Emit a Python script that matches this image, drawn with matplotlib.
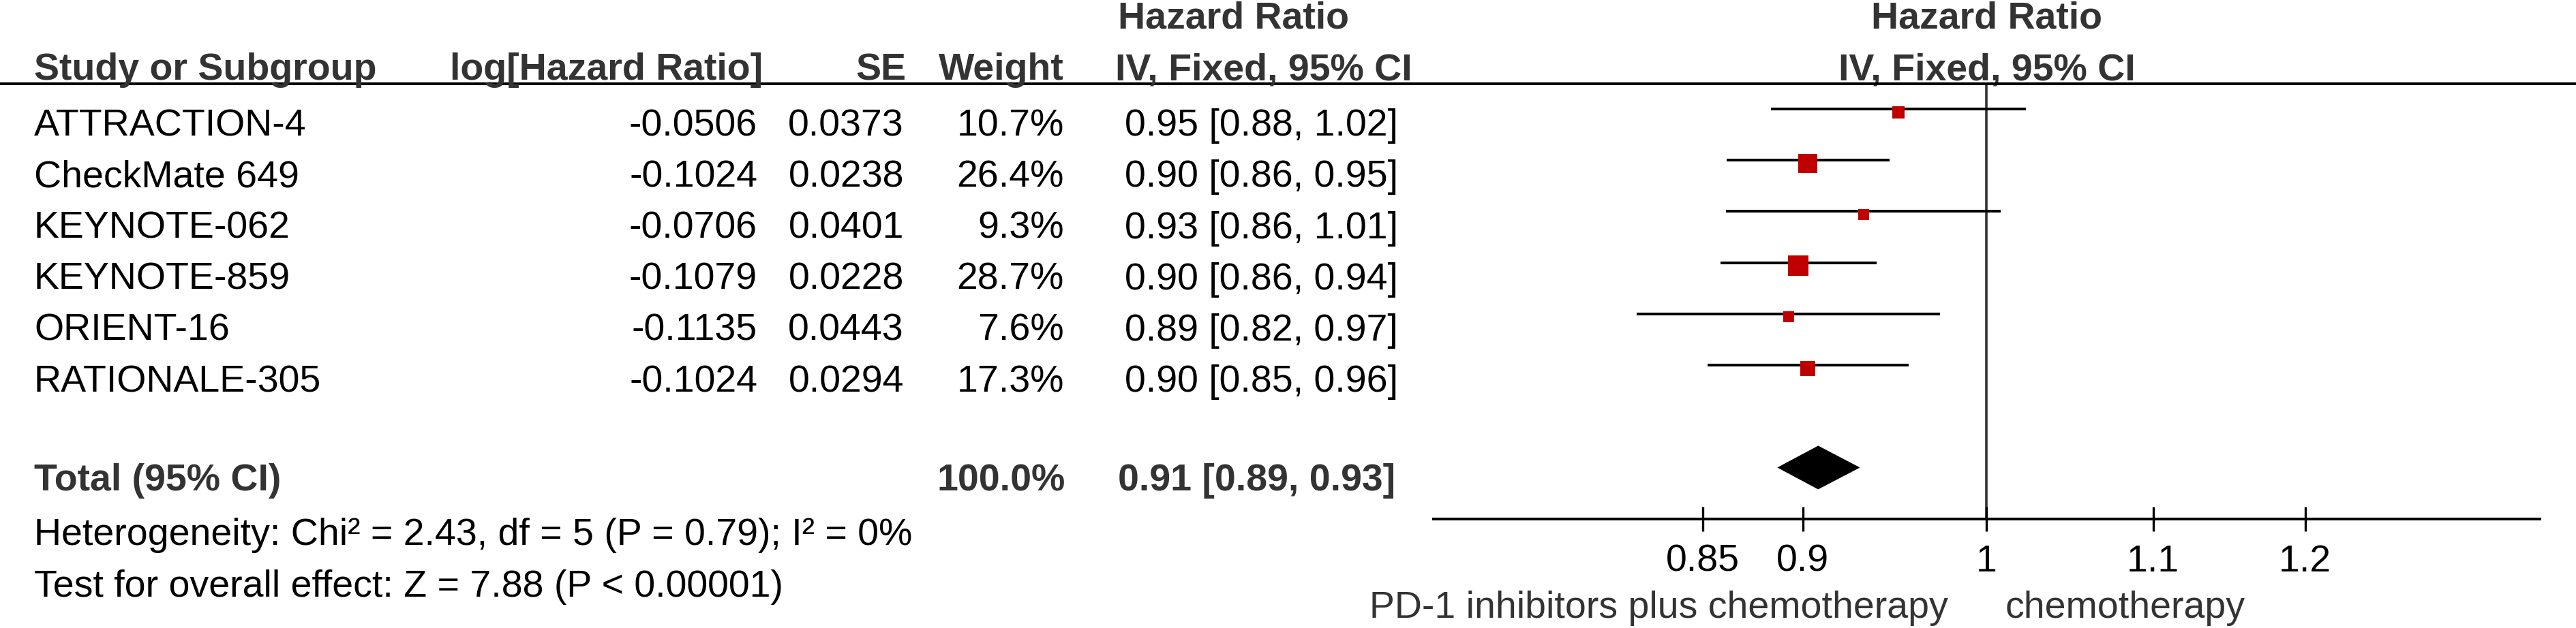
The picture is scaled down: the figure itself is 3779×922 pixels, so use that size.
import matplotlib
matplotlib.use("Agg")
import matplotlib.pyplot as plt
import matplotlib.transforms as mtransforms
from matplotlib.lines import Line2D
import numpy as np

plt.rcParams['font.family'] = ['Liberation Sans', 'DejaVu Sans']

# data
studies = ["ATTRACTION-4", "CheckMate 649", "KEYNOTE-062", "KEYNOTE-859", "ORIENT-16", "RATIONALE-305"]
log_hr = [-0.0506, -0.1024, -0.0706, -0.1079, -0.1135, -0.1024]
se = [0.0373, 0.0238, 0.0401, 0.0228, 0.0443, 0.0294]
weight = [10.7, 26.4, 9.3, 28.7, 7.6, 17.3]
hr_text = ["0.95 [0.88, 1.02]", "0.90 [0.86, 0.95]", "0.93 [0.86, 1.01]",
           "0.90 [0.86, 0.94]", "0.89 [0.82, 0.97]", "0.90 [0.85, 0.96]"]
total_hr = 0.908
total_lo = 0.887
total_hi = 0.930
total_text = "0.91 [0.89, 0.93]"
ticks = [0.85, 0.9, 1, 1.1, 1.2]
tick_labels = ["0.85", "0.9", "1", "1.1", "1.2"]
heterogeneity = "Heterogeneity: Chi² = 2.43, df = 5 (P = 0.79); I² = 0%"
overall = "Test for overall effect: Z = 7.88 (P < 0.00001)"
favours_left = "PD-1 inhibitors plus chemotherapy"
favours_right = "chemotherapy"

W, H = 3780, 922
FS = 40
HEAD = "#333333"
RED = "#C00000"

fig = plt.figure(figsize=(W / 100, H / 100), dpi=100)
ax = fig.add_axes([2103 / W, 1 - 762 / H, (3726 - 2103) / W, (762 - 123) / H])

# pixel transform (origin top-left) and row transform
px = mtransforms.Affine2D().scale(1 / W, -1 / H).translate(0, 1) + fig.transFigure
row_tr = mtransforms.blended_transform_factory(px, ax.transData)

lhr = np.array(log_hr)
sev = np.array(se)
lo = np.exp(lhr - 1.96 * sev)
hi = np.exp(lhr + 1.96 * sev)
rows = np.arange(len(studies))

# CI lines and weighted squares
for k in rows:
    ax.plot([lo[k], hi[k]], [k, k], color="black", lw=2.9, solid_capstyle="butt", zorder=2)
    side = 5.5 * np.sqrt(weight[k]) * 0.72
    ax.plot(np.exp(lhr[k]), k + 0.06, marker="s", ms=side, color=RED, mew=0, zorder=3)

# pooled diamond
trow = 7
dh = 0.426
ax.fill([total_lo, total_hr, total_hi, total_hr], [trow, trow - dh, trow, trow + dh],
        color="black", lw=0, zorder=3)

ax.axvline(1, color="#333333", lw=2.6, zorder=1)

ax.set_xscale("log")
ax.set_xlim(0.7285, 1.3727)
ax.set_ylim(8.005, -0.492)
ax.set_xticks(ticks)
ax.set_xticklabels(tick_labels)
ax.xaxis.set_minor_locator(matplotlib.ticker.NullLocator())
ax.tick_params(axis="x", direction="inout", length=26.6, width=2.4, pad=13.3,
               labelsize=FS, colors="black")
ax.set_yticks([])
for s in ["top", "left", "right"]:
    ax.spines[s].set_visible(False)
ax.spines["bottom"].set_linewidth(2.9)
ax.patch.set_alpha(0)

# header rule across the whole figure
fig.add_artist(Line2D([0, W], [123, 123], transform=px, color="black", lw=2.9))

# column headers
hb = dict(transform=px, fontsize=FS, fontweight="bold", color=HEAD, va="baseline")
fig.text(50, 117, "Study or Subgroup", ha="left", **hb)
fig.text(1119, 117, "log[Hazard Ratio]", ha="right", **hb)
fig.text(1329, 117, "SE", ha="right", **hb)
fig.text(1561, 117, "Weight", ha="right", **hb)
fig.text(1640, 42, "Hazard Ratio", ha="left", **hb)
fig.text(1636, 118, "IV, Fixed, 95% CI", ha="left", **hb)
ax.text(0.5, 42, "Hazard Ratio", transform=mtransforms.blended_transform_factory(ax.transAxes, px),
        ha="center", va="baseline", fontsize=FS, fontweight="bold", color=HEAD)
ax.text(0.5, 118, "IV, Fixed, 95% CI", transform=mtransforms.blended_transform_factory(ax.transAxes, px),
        ha="center", va="baseline", fontsize=FS, fontweight="bold", color=HEAD)

# study rows
off = 0.52
for k in rows:
    y = k + off
    fig.text(50, y, studies[k], transform=row_tr, ha="left", va="baseline", fontsize=FS)
    fig.text(1111, y, "%.4f" % log_hr[k], transform=row_tr, ha="right", va="baseline", fontsize=FS)
    fig.text(1326, y, "%.4f" % se[k], transform=row_tr, ha="right", va="baseline", fontsize=FS)
    fig.text(1561, y, "%.1f%%" % weight[k], transform=row_tr, ha="right", va="baseline", fontsize=FS)
    fig.text(1650, y, hr_text[k], transform=row_tr, ha="left", va="baseline", fontsize=FS)

# total row
tb = dict(transform=row_tr, va="baseline", fontsize=FS, fontweight="bold", color=HEAD)
fig.text(50, trow + 0.45, "Total (95% CI)", ha="left", **tb)
fig.text(1563, trow + 0.45, "100.0%", ha="right", **tb)
fig.text(1640, trow + 0.45, total_text, ha="left", **tb)

# footnotes
fig.text(50, 800, heterogeneity, transform=px, ha="left", va="baseline", fontsize=FS)
fig.text(50, 876, overall, transform=px, ha="left", va="baseline", fontsize=FS)

# favours labels
fig.text(2858, 907, favours_left, transform=px, ha="right", va="baseline", fontsize=FS, color=HEAD)
fig.text(2942, 907, favours_right, transform=px, ha="left", va="baseline", fontsize=FS, color=HEAD)

fig.savefig("out.png", dpi=100, facecolor="white")
